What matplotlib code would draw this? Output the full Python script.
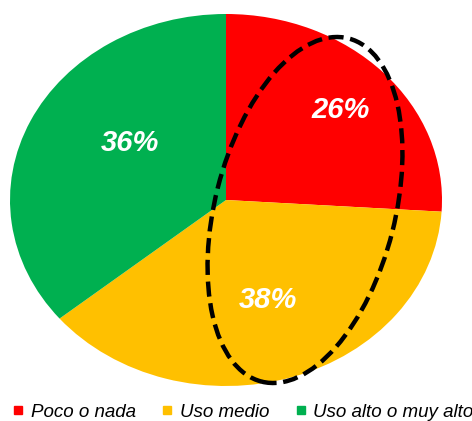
import numpy as np
import matplotlib
matplotlib.use("Agg")
import matplotlib.pyplot as plt
from matplotlib.patches import Ellipse
from matplotlib.lines import Line2D

categories = ["Poco o nada", "Uso medio", "Uso alto o muy alto"]
shares = [26, 38, 36]
colors = ["#FF0000", "#FFC000", "#00B050"]
# where each % label sits, in pie units (x, y)
label_pos = [(0.532, 0.484), (0.194, -0.538), (-0.444, 0.306)]

plt.rcParams["font.family"] = ["Liberation Sans", "DejaVu Sans"]

W, H = 472, 421
fig = plt.figure(figsize=(W / 100, H / 100), dpi=100)
fig.patch.set_facecolor("white")

# pie is stretched into an ellipse, so axes aspect is left free
ax = fig.add_axes([10 / W, 35 / H, 432 / W, 372 / H])
wedges, _ = ax.pie(shares, colors=colors, startangle=90, counterclock=False,
                   wedgeprops=dict(linewidth=0))
ax.set_aspect("auto")
ax.set_xlim(-1, 1); ax.set_ylim(-1, 1)
ax.axis("off")

for v, (x, y) in zip(shares, label_pos):
    ax.text(x, y, f"{v}%", ha="center", va="center", color="white",
            fontsize=21, fontweight="bold", fontstyle="italic")

# dashed highlight ellipse, drawn on a pixel-sized overlay
ov = fig.add_axes([0, 0, 1, 1], facecolor="none")
ov.set_xlim(0, W); ov.set_ylim(0, H); ov.axis("off")
ov.add_patch(Ellipse((305, H - 210), width=180, height=354, angle=-14.2,
                     fill=False, edgecolor="black", linewidth=3.2,
                     linestyle=(0, (3.4, 1.5))))

handles = [Line2D([], [], marker="s", linestyle="none", markersize=6,
                  markerfacecolor=c, markeredgecolor=c) for c in colors]
fig.legend(handles, categories, loc="center", bbox_to_anchor=(243 / W, 9 / H),
           ncol=3, frameon=False, handlelength=0.6, handletextpad=0.35,
           columnspacing=1.4, prop=dict(size=13.5, style="italic"),
           borderpad=0, borderaxespad=0)

fig.savefig("out.png", dpi=100)
